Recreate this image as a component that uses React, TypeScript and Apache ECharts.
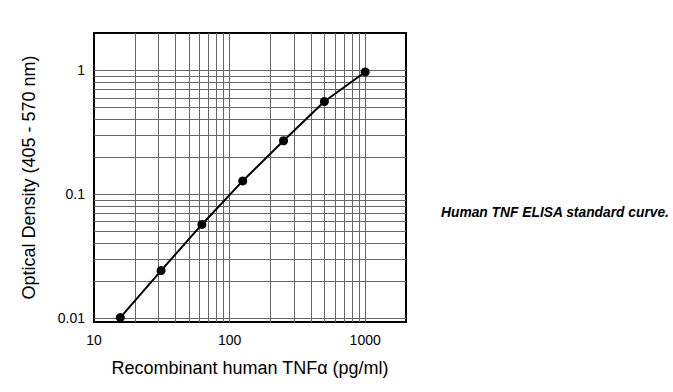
import React, { useEffect, useRef } from "react";
import * as echarts from "echarts";

const concentrations = [15.625, 31.25, 62.5, 125, 250, 500, 1000];
const opticalDensity = [0.0101, 0.0242, 0.057, 0.128, 0.27, 0.56, 0.97];
const xGridValues = [20, 30, 40, 50, 60, 70, 80, 90, 100, 200, 300, 400, 500, 600, 700, 800, 900, 1000];
const yGridValues = [0.01, 0.02, 0.03, 0.04, 0.05, 0.06, 0.07, 0.08, 0.09, 0.1, 0.2, 0.3, 0.4, 0.5, 0.6, 0.7, 0.8, 0.9, 1];
const xTitle = "Recombinant human TNFα (pg/ml)";
const yTitle = "Optical Density (405 - 570 nm)";
const captionText = "Human TNF ELISA standard curve.";

const FONT = "'Liberation Sans', Arial, sans-serif";

function decadeLabel(v: number): string {
  const l = Math.log10(v);
  if (Math.abs(l - Math.round(l)) > 1e-6) return "";
  const p = Math.round(l);
  if (p >= 0) return String(Math.pow(10, p));
  return Math.pow(10, p).toFixed(-p);
}

export default function App() {
  const ref = useRef<HTMLDivElement>(null);
  useEffect(() => {
    document.body.style.margin = "0";
    if (!ref.current) return;
    const chart = echarts.init(ref.current, null, { renderer: "svg" });
    const gridLine = { color: "#666", width: 1, type: "solid" as const };
    chart.setOption({
      animation: false,
      backgroundColor: "#fff",
      grid: {
        left: 94,
        top: 33,
        width: 312,
        height: 289,
        show: true,
        borderColor: "#000",
        borderWidth: 2,
        backgroundColor: "transparent",
      },
      xAxis: {
        type: "log",
        min: 10,
        max: 2000,
        logBase: 10,
        name: xTitle,
        nameLocation: "middle",
        nameGap: 37,
        nameTextStyle: { fontFamily: FONT, fontSize: 18, color: "#000" },
        axisLine: { show: false },
        axisTick: { show: false },
        splitLine: { show: false },
        axisLabel: {
          formatter: (v: number) => decadeLabel(v),
          fontFamily: FONT,
          fontSize: 14,
          color: "#000",
          margin: 11,
          showMaxLabel: false,
        },
      },
      yAxis: {
        type: "log",
        min: 0.0093,
        max: 2,
        logBase: 10,
        name: yTitle,
        nameLocation: "middle",
        nameGap: 56,
        nameTextStyle: { fontFamily: FONT, fontSize: 18, color: "#000" },
        axisLine: { show: false },
        axisTick: { show: false },
        splitLine: { show: false },
        axisLabel: {
          formatter: (v: number) => decadeLabel(v),
          fontFamily: FONT,
          fontSize: 14,
          color: "#000",
          margin: 9,
          showMinLabel: true,
          showMaxLabel: false,
        },
      },
      series: [
        {
          type: "line",
          data: [],
          silent: true,
          markLine: {
            silent: true,
            symbol: "none",
            label: { show: false },
            lineStyle: gridLine,
            data: [
              ...xGridValues.map((v) => ({ xAxis: v })),
              ...yGridValues.map((v) => ({ yAxis: v })),
            ],
          },
        },
        {
          type: "line",
          data: concentrations.map((c, i) => [c, opticalDensity[i]]),
          symbol: "circle",
          symbolSize: 9,
          lineStyle: { color: "#000", width: 2 },
          itemStyle: { color: "#000" },
          z: 5,
        },
      ],
      graphic: [
        {
          type: "text",
          left: 441,
          top: 205,
          style: {
            text: captionText,
            fontFamily: FONT,
            fontSize: 13.8,
            fontWeight: "bold",
            fontStyle: "italic",
            fill: "#000",
          },
        },
      ],
    });
    return () => chart.dispose();
  }, []);
  return (
    <div
      ref={ref}
      style={{ position: "absolute", left: 0, top: 0, width: 673, height: 392 }}
    />
  );
}
